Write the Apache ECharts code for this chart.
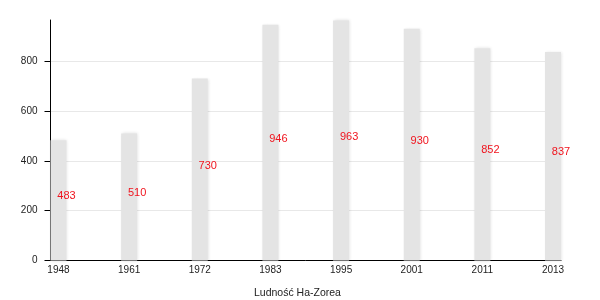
<!DOCTYPE html>
<html><head><meta charset="utf-8">
<script src="https://cdn.jsdelivr.net/npm/echarts@6/dist/echarts.min.js"></script>
<style>html,body{margin:0;padding:0;background:#fff}#c{width:600px;height:300px}</style>
</head><body><div id="c"></div>
<script>
const categories = ['1948','1961','1972','1983','1995','2001','2011','2013'];
const population = [483, 510, 730, 946, 963, 930, 852, 837];
const yTicks = [0, 200, 400, 600, 800];
const axisTitle = 'Ludność Ha-Zorea';

const chart = echarts.init(document.getElementById('c'), null, {renderer: 'canvas'});
chart.setOption({
  animation: false,
  title: {
    text: axisTitle, left: 249, top: 283,
    textStyle: {fontFamily: 'Liberation Sans, Arial, sans-serif', fontSize: 10.5, fontWeight: 'normal', color: '#222'}
  },
  grid: {left: 50.5, right: 39, top: 20, bottom: 39.5, containLabel: false},
  xAxis: {
    type: 'value', min: -0.113, max: 7.113,
    splitLine: {show: false},
    axisLine: {show: true, onZero: false, lineStyle: {color: '#000', width: 1}},
    axisTick: {show: false},
    axisLabel: {
      customValues: categories.map((c, i) => i),
      formatter: v => categories[Math.round(v)],
      margin: 5, fontSize: 10, color: '#222',
      fontFamily: 'Liberation Sans, Arial, sans-serif',
      showMinLabel: true, showMaxLabel: true
    }
  },
  yAxis: {
    type: 'value', min: 0, max: 965, interval: 200,
    axisLine: {show: true, onZero: false, lineStyle: {color: '#000', width: 1}},
    axisTick: {show: true, length: 6, lineStyle: {color: '#000'}, customValues: yTicks},
    splitLine: {show: true, lineStyle: {color: '#e8e8e8'}},
    axisLabel: {
      customValues: yTicks, margin: 13, fontSize: 10, color: '#222',
      fontFamily: 'Liberation Sans, Arial, sans-serif'
    }
  },
  series: [{
    type: 'bar',
    barWidth: 16,
    data: population.map((v, i) => [i, v]),
    itemStyle: {color: '#e4e4e4', shadowBlur: 3, shadowColor: 'rgba(0,0,0,0.12)', shadowOffsetX: 1},
    label: {
      show: true, position: 'inside', offset: [8, -4],
      formatter: p => p.value[1],
      color: '#f0141e', fontSize: 11,
      fontFamily: 'Liberation Sans, Arial, sans-serif'
    }
  }]
});
</script></body></html>
